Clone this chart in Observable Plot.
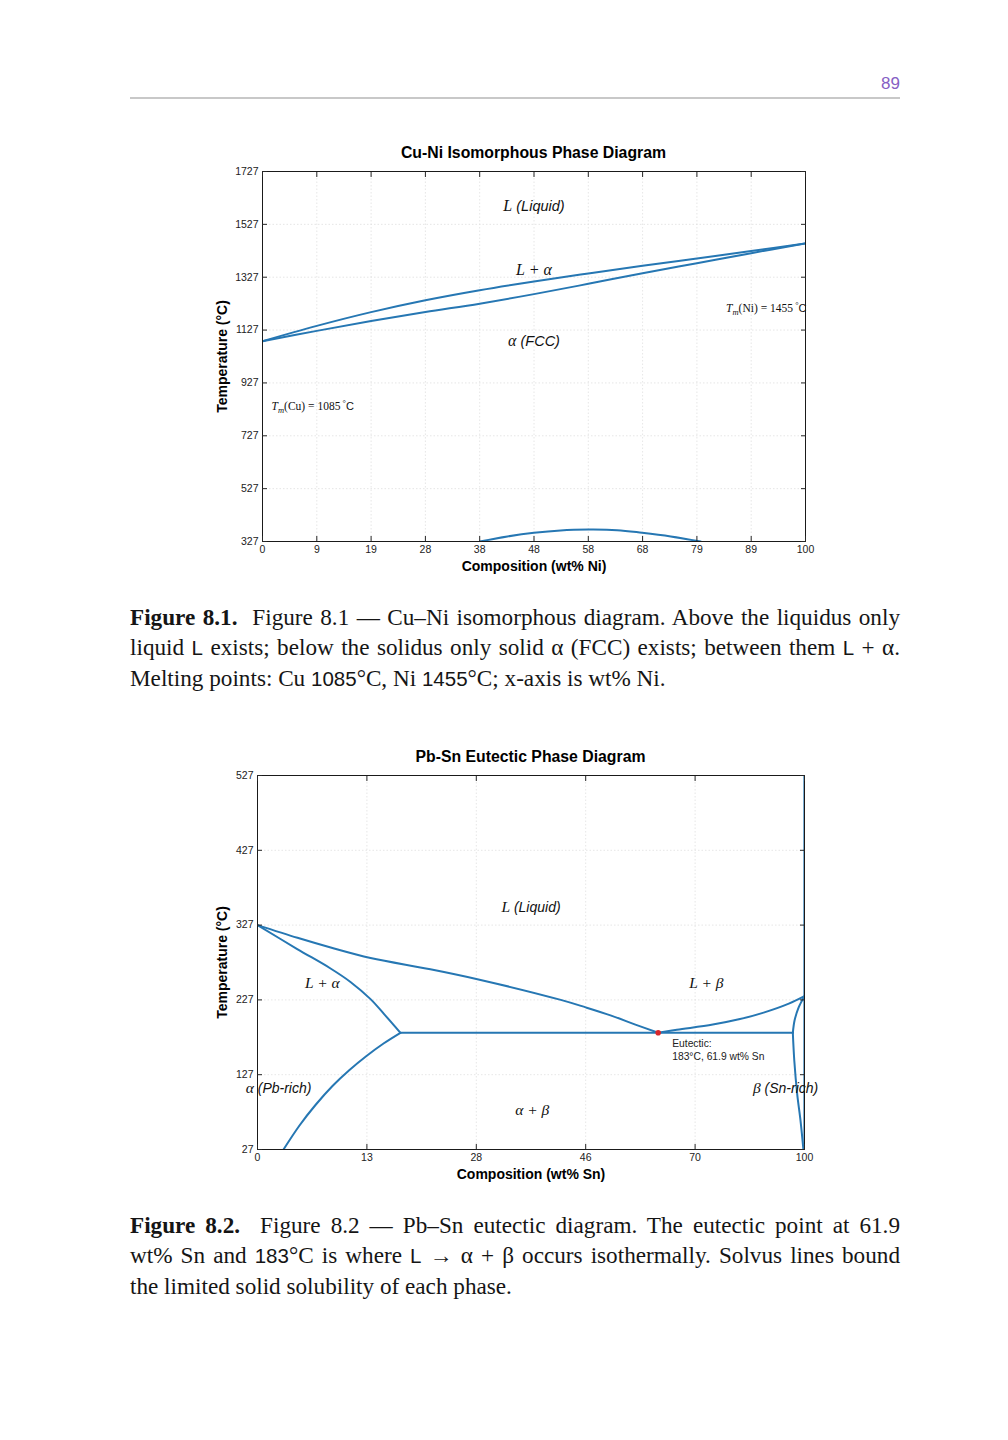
<!DOCTYPE html>
<html>
<head>
<meta charset="utf-8">
<script src="https://cdn.jsdelivr.net/npm/d3@7"></script>
<script src="https://cdn.jsdelivr.net/npm/@observablehq/plot@0.6"></script>
<style>
  html, body { margin: 0; padding: 0; background: #fff; }
  body { position: relative; width: 1008px; height: 1440px; font-family: "Liberation Sans", Arial, sans-serif; color: #111; }
  .abs { position: absolute; }
  .pageno { left: 840px; width: 60px; top: 74px; text-align: right; font-size: 17px; color: #8660c4; }
  .rule { left: 130px; top: 97px; width: 770px; height: 2px; background: #c8c8c8; }
  .ctitle { font-weight: bold; font-size: 15.8px; text-align: center; color: #000; line-height: 18px; }
  .cap { left: 130px; width: 770px; font-family: "Liberation Serif", "Times New Roman", serif; font-size: 23.2px; line-height: 30px; color: #151515; }
  .cap .ln { text-align: justify; text-align-last: justify; white-space: nowrap; }
  .cap .ln.last { text-align-last: left; }
  .cap .sf { font-family: "Liberation Sans", Arial, sans-serif; font-size: 20.5px; }
  .cap b { font-weight: bold; }
</style>
</head>
<body>
<div class="abs pageno">89</div>
<div class="abs rule"></div>

<div class="abs ctitle" style="left:262px;width:543px;top:144px;">Cu-Ni Isomorphous Phase Diagram</div>
<div class="abs" id="chart1" style="left:200px;top:165px;"></div>

<div class="abs cap" style="top:602px;">
  <div class="ln"><b>Figure 8.1.</b>&nbsp; Figure 8.1 — Cu–Ni isomorphous diagram. Above the liquidus only</div>
  <div class="ln">liquid <span class="sf">L</span> exists; below the solidus only solid α (FCC) exists; between them <span class="sf">L</span> + α.</div>
  <div class="ln last">Melting points: Cu <span class="sf">1085</span>°C, Ni <span class="sf">1455</span>°C; x-axis is wt% Ni.</div>
</div>

<div class="abs ctitle" style="left:257px;width:547px;top:748px;">Pb-Sn Eutectic Phase Diagram</div>
<div class="abs" id="chart2" style="left:200px;top:770px;"></div>

<div class="abs cap" style="top:1210px;">
  <div class="ln"><b>Figure 8.2.</b>&nbsp; Figure 8.2 — Pb–Sn eutectic diagram. The eutectic point at 61.9</div>
  <div class="ln">wt% Sn and <span class="sf">183</span>°C is where <span class="sf">L</span> → α + β occurs isothermally. Solvus lines bound</div>
  <div class="ln last">the limited solid solubility of each phase.</div>
</div>

<script>
// ---------------- Cu-Ni data ----------------
const cuNiXTicks = [0, 9, 19, 28, 38, 48, 58, 68, 79, 89, 100];
const cuNiYTicks = [327, 527, 727, 927, 1127, 1327, 1527, 1727];
const cuNiComp = [0, 9, 19, 28, 38, 48, 58, 68, 79, 89, 100];
const cuNiLiquidus = [1085, 1143, 1195, 1240, 1278, 1311, 1341, 1370, 1398, 1426, 1455];
const cuNiSolidus = [1085, 1124, 1161, 1195, 1227, 1263, 1302, 1342, 1380, 1418, 1455];
const cuNiDomeComp = [38, 43.1, 48, 52.9, 58.1, 63.3, 67.9, 73.7, 79.7];
const cuNiDomeTemp = [327, 346, 360, 369, 372, 370, 360, 346, 327];
const cuNiLabelMath = ["L", "L + α", "α"];
const cuNiLabelDesc = [" (Liquid)", "", " (FCC)"];
const cuNiLabelComp = [48, 48, 48];
const cuNiLabelTemp = [1595, 1352, 1084];
const meltElements = ["Cu", "Ni"];
const meltTemps = [1085, 1455];
const meltNoteComp = [1.5, 100];
const meltNoteTemp = [838, 1209];

// ---------------- Pb-Sn data ----------------
const pbSnXTicks = [0, 13, 28, 46, 70, 100];
const pbSnYTicks = [27, 127, 227, 327, 427, 527];
const liqLeftComp = [0, 4.75, 8.7, 13.5, 21.7, 28, 41.9, 46, 51.6, 56.9, 61.9];
const liqLeftTemp = [327, 310, 297, 283, 268, 255, 227, 217, 206, 194, 183];
const solLeftComp = [0, 4.72, 8.68, 11.05, 13.5, 15.36, 17.6];
const solLeftTemp = [327, 295, 269, 251, 228, 208, 183];
const solvLeftComp = [17.6, 15.28, 12.95, 10.93, 8.91, 6.89, 4.99, 3.09];
const solvLeftTemp = [183, 168.7, 152, 133.3, 111.9, 86.5, 59.1, 27];
const eutLineComp = [17.6, 96.8];
const eutLineTemp = [183, 183];
const liqRightComp = [61.9, 66, 74.85, 82, 88.8, 95.7, 100];
const liqRightTemp = [183, 187, 194, 201, 210, 222, 232];
const solRightComp = [96.8, 97.3, 98.4, 100];
const solRightTemp = [183, 200, 217, 232];
const solvRightComp = [96.8, 97.2, 98.0, 98.9, 99.7];
const solvRightTemp = [183, 146, 101, 66, 27];
const snEdgeComp = [100, 100];
const snEdgeTemp = [27, 527];
const eutecticComp = [61.9];
const eutecticTemp = [183];
const eutecticNote = ["Eutectic:\n183°C, 61.9 wt% Sn"];
const pbSnLabelMath = ["L", "L + α", "L + β", "α", "β", "α + β"];
const pbSnLabelDesc = [" (Liquid)", "", "", " (Pb-rich)", " (Sn-rich)", ""];
const pbSnLabelComp = [37, 7.7, 73.1, 2.5, 94.8, 37.2];
const pbSnLabelTemp = [350, 249, 249, 109, 109, 79];

// ---------------- style ----------------
const BLUE = "#2677b3";
const SANS = "Liberation Sans, Arial, sans-serif";
const SERIF = "Liberation Serif, Times New Roman, serif";

// The composition axis is spaced evenly between its (uneven) tick values:
// map a composition onto tick-index space, then let Plot's linear x scale place it.
function makeTickIndex(ticks) {
  const f = d3.scaleLinear().domain(ticks).range(d3.range(ticks.length));
  return arr => arr.map(v => f(v));
}

function curve(xi, comp, temp, extra = {}) {
  return Plot.line({length: comp.length}, {x: xi(comp), y: temp, stroke: BLUE, strokeWidth: 2, curve: "catmull-rom", clip: true, ...extra});
}

function gridMarks(nx, yTicks) {
  const grid = {stroke: "#e0e0e0", strokeOpacity: 1, strokeDasharray: "1.5,2", strokeWidth: 0.8};
  return [
    Plot.gridX(d3.range(nx), grid),
    Plot.gridY(yTicks, grid),
  ];
}

function axisMarks(xTicks, yTicks, xLabel, yLabelDx) {
  const xi = d3.range(xTicks.length);
  const tk = {tickSize: -5, tickFormat: () => "", label: null, stroke: "#262626"};
  return [
    Plot.frame({stroke: "#1a1a1a", strokeWidth: 1}),
    Plot.axisX(xi, {anchor: "bottom", ...tk}),
    Plot.axisX(xi, {anchor: "top", ...tk}),
    Plot.axisY(yTicks, {anchor: "left", ...tk}),
    Plot.axisY(yTicks, {anchor: "right", ...tk}),
    Plot.axisX(xi, {anchor: "bottom", tickSize: 0, tickPadding: 4, label: null, fontSize: 10.5, fill: "#222", tickFormat: i => String(xTicks[i])}),
    Plot.axisY(yTicks, {anchor: "left", tickSize: 0, tickPadding: 4, label: null, fontSize: 10.5, fill: "#222", tickFormat: d => String(d)}),
    Plot.text([xLabel], {frameAnchor: "bottom", text: d => d, textAnchor: "middle", lineAnchor: "middle", dy: 25, fontWeight: "bold", fontSize: 14, fill: "#000"}),
    Plot.text(["Temperature (°C)"], {frameAnchor: "left", text: d => d, textAnchor: "middle", lineAnchor: "middle", rotate: -90, dx: yLabelDx, fontWeight: "bold", fontSize: 14, fill: "#000"})
  ];
}

function styleLabels(svg, maths, descs, size) {
  const fulls = maths.map((m, i) => m + descs[i]);
  d3.select(svg).selectAll("text").each(function() {
    if (this.querySelector("tspan")) return;
    const i = fulls.indexOf(this.textContent);
    if (i < 0) return;
    const s = d3.select(this);
    s.text(null);
    s.append("tspan").attr("font-family", SERIF).attr("font-style", "italic").attr("font-size", size + 1.5).text(maths[i]);
    if (descs[i]) s.append("tspan").attr("font-family", SANS).attr("font-style", "italic").attr("font-size", size).text(descs[i]);
  });
}

function styleMeltNotes(svg, notes) {
  d3.select(svg).selectAll("text").each(function() {
    const i = notes.indexOf(this.textContent);
    if (i < 0) return;
    const s = d3.select(this);
    s.text(null);
    s.append("tspan").attr("font-family", SERIF).attr("font-style", "italic").text("T");
    s.append("tspan").attr("font-family", SERIF).attr("font-style", "italic").attr("font-size", 8.5).attr("dy", 2.5).text("m");
    s.append("tspan").attr("font-family", SERIF).attr("dy", -2.5).text(`(${meltElements[i]}) = ${meltTemps[i]}`);
    s.append("tspan").attr("font-family", SERIF).attr("font-size", 8.5).attr("dy", -4).text(" °");
    s.append("tspan").attr("font-family", SANS).attr("font-size", 11).attr("dy", 4).text("C");
  });
}

// ---------------- Chart 1: Cu-Ni ----------------
{
  const W = 620, H = 412, ml = 62, mr = 15, mt = 6, mb = 36;
  const xi = makeTickIndex(cuNiXTicks);
  const meltNotes = meltElements.map((e, i) => `Tm(${e}) = ${meltTemps[i]}°C`);
  const svg = Plot.plot({
    width: W, height: H, marginLeft: ml, marginRight: mr, marginTop: mt, marginBottom: mb,
    style: {fontFamily: SANS, fontSize: "10px", background: "white", overflow: "visible", color: "#222"},
    x: {type: "linear", domain: [0, cuNiXTicks.length - 1], axis: null},
    y: {type: "linear", domain: [327, 1727], axis: null},
    marks: [
      ...gridMarks(cuNiXTicks.length, cuNiYTicks),
      curve(xi, cuNiComp, cuNiLiquidus),
      curve(xi, cuNiComp, cuNiSolidus),
      curve(xi, cuNiDomeComp, cuNiDomeTemp),
      Plot.text({length: 3}, {x: xi(cuNiLabelComp), y: cuNiLabelTemp, text: (d, i) => cuNiLabelMath[i] + cuNiLabelDesc[i], fontSize: 14.5, fill: "#111", textAnchor: "middle"}),
      Plot.text({length: 1}, {x: xi([meltNoteComp[0]]), y: [meltNoteTemp[0]], text: [meltNotes[0]], textAnchor: "start", fontSize: 11.5, fill: "#111"}),
      Plot.text({length: 1}, {x: xi([meltNoteComp[1]]), y: [meltNoteTemp[1]], text: [meltNotes[1]], textAnchor: "end", dx: 1, fontSize: 11.5, fill: "#111"}),
      ...axisMarks(cuNiXTicks, cuNiYTicks, "Composition (wt% Ni)", -40)
    ]
  });
  styleLabels(svg, cuNiLabelMath, cuNiLabelDesc, 14.5);
  styleMeltNotes(svg, meltNotes);
  document.getElementById("chart1").appendChild(svg);
}

// ---------------- Chart 2: Pb-Sn ----------------
{
  const W = 620, H = 415, ml = 57, mr = 16, mt = 5, mb = 36;
  const xi = makeTickIndex(pbSnXTicks);
  const svg = Plot.plot({
    width: W, height: H, marginLeft: ml, marginRight: mr, marginTop: mt, marginBottom: mb,
    style: {fontFamily: SANS, fontSize: "10px", background: "white", overflow: "visible", color: "#222"},
    x: {type: "linear", domain: [0, pbSnXTicks.length - 1], axis: null},
    y: {type: "linear", domain: [27, 527], axis: null},
    marks: [
      ...gridMarks(pbSnXTicks.length, pbSnYTicks),
      curve(xi, snEdgeComp, snEdgeTemp, {curve: "linear", strokeWidth: 2.2}),
      curve(xi, liqLeftComp, liqLeftTemp),
      curve(xi, solLeftComp, solLeftTemp),
      curve(xi, solvLeftComp, solvLeftTemp),
      curve(xi, eutLineComp, eutLineTemp, {curve: "linear"}),
      curve(xi, liqRightComp, liqRightTemp),
      curve(xi, solRightComp, solRightTemp),
      curve(xi, solvRightComp, solvRightTemp),
      Plot.dot({length: 1}, {x: xi(eutecticComp), y: eutecticTemp, r: 2.8, fill: "#d7262b", stroke: "none"}),
      Plot.text(eutecticNote, {x: xi(eutecticComp), y: eutecticTemp, text: d => d, textAnchor: "start", lineAnchor: "top", dx: 14, dy: 5, fontSize: 10.3, lineHeight: 1.25, fill: "#222"}),
      Plot.text({length: pbSnLabelMath.length}, {x: xi(pbSnLabelComp), y: pbSnLabelTemp, text: (d, i) => pbSnLabelMath[i] + pbSnLabelDesc[i], fontSize: 14, fill: "#111", textAnchor: "middle"}),
      ...axisMarks(pbSnXTicks, pbSnYTicks, "Composition (wt% Sn)", -35)
    ]
  });
  styleLabels(svg, pbSnLabelMath, pbSnLabelDesc, 14);
  document.getElementById("chart2").appendChild(svg);
}
</script>
</body>
</html>
